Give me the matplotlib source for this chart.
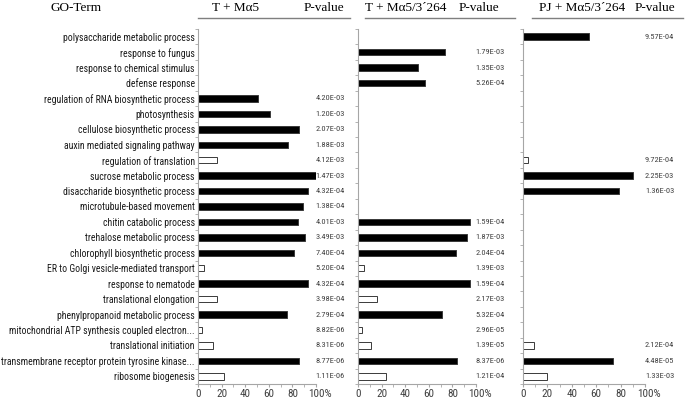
#!/usr/bin/env python3
"""GO-term enrichment, three treatments side by side (horizontal bars + p-values)."""

import numpy as np
import matplotlib
matplotlib.use("Agg")
import matplotlib.pyplot as plt
import matplotlib.transforms as mtransforms
from matplotlib.lines import Line2D
from matplotlib.ticker import FixedLocator

# Data
go_terms = [
    "polysaccharide metabolic process",
    "response to fungus",
    "response to chemical stimulus",
    "defense response",
    "regulation of RNA biosynthetic process",
    "photosynthesis",
    "cellulose biosynthetic process",
    "auxin mediated signaling pathway",
    "regulation of translation",
    "sucrose metabolic process",
    "disaccharide biosynthetic process",
    "microtubule-based movement",
    "chitin catabolic process",
    "trehalose metabolic process",
    "chlorophyll biosynthetic process",
    "ER to Golgi vesicle-mediated transport",
    "response to nematode",
    "translational elongation",
    "phenylpropanoid metabolic process",
    "mitochondrial ATP synthesis coupled electron...",
    "translational initiation",
    "transmembrane receptor protein tyrosine kinase...",
    "ribosome biogenesis",
]
# True = open (white) bar
open_bar = [False, False, False, False, False, False, False, False, True, False,
            False, False, False, False, False, True, False, True, False, True,
            True, False, True]

nan = np.nan
t_ma5 = [nan, nan, nan, nan, 51, 61, 86, 76, 16, 100, 93, 89, 85, 91, 81,
         5, 93, 16, 75, 3.5, 13, 86, 22]
t_ma5_p = [None, None, None, None, "4.20E-03", "1.20E-03", "2.07E-03", "1.88E-03",
           "4.12E-03", "1.47E-03", "4.32E-04", "1.38E-04", "4.01E-03", "3.49E-03",
           "7.40E-04", "5.20E-04", "4.32E-04", "3.98E-04", "2.79E-04", "8.82E-06",
           "8.31E-06", "8.77E-06", "1.11E-06"]

t_ma5_264 = [nan, 74, 51, 57, nan, nan, nan, nan, nan, nan, nan, nan, 95, 92, 83,
             5, 95, 16, 71, 3.5, 11, 84, 24]
t_ma5_264_p = [None, "1.79E-03", "1.35E-03", "5.26E-04", None, None, None, None,
               None, None, None, None, "1.59E-04", "1.87E-03", "2.04E-04",
               "1.39E-03", "1.59E-04", "2.17E-03", "5.32E-04", "2.96E-05",
               "1.39E-05", "8.37E-06", "1.21E-04"]

pj_ma5_264 = [54, nan, nan, nan, nan, nan, nan, nan, 4, 90, 79, nan, nan, nan, nan,
              nan, nan, nan, nan, nan, 9, 73.5, 20]
pj_ma5_264_p = ["9.57E-04", None, None, None, None, None, None, None, "9.72E-04",
                "2.25E-03", "1.36E-03", None, None, None, None, None, None, None,
                None, None, "2.12E-04", "4.48E-05", "1.33E-03"]

panel_titles = ["T + M\u03b15", "T + M\u03b15/3\u00b4264", "PJ + M\u03b15/3\u00b4264"]
x_tick_labels = ["0", "20", "40", "60", "80", "100%"]

# Layout (pixels of a 685x403 canvas)
W, H = 685, 403
AX_LEFT_PX = [198, 358, 523]
AX_WIDTH_PX = [118, 118, 122]
AX_TOP_PX, AX_BOTTOM_PX = 29, 384
TITLE_X_PX = [236, 406, 582]
PVAL_HDR_X_PX = [324, 479, 655]
RULE_PX = [(198, 350), (365, 515), (532, 683)]
AXIS_GRAY = "#a6a6a6"
TEXT_GRAY = "#404040"

serif = ["Liberation Serif", "DejaVu Serif"]
sans = ["Roboto Condensed", "DejaVu Sans"]

fig = plt.figure(figsize=(W / 100, H / 100), dpi=100)

# header row
fig.text(76 / W, 1 - 8 / H, "GO-Term", family=serif, fontsize=9.5,
         ha="center", va="center")
for i in range(3):
    fig.text(TITLE_X_PX[i] / W, 1 - 8 / H, panel_titles[i], family=serif,
             fontsize=9.5, ha="center", va="center")
    fig.text(PVAL_HDR_X_PX[i] / W, 1 - 8 / H, "P-value", family=serif,
             fontsize=9.5, ha="center", va="center")
    x0, x1 = RULE_PX[i]
    fig.add_artist(Line2D([x0 / W, x1 / W], [1 - 18 / H, 1 - 18 / H],
                          color="#7f7f7f", lw=1.0))

series = [(t_ma5, t_ma5_p), (t_ma5_264, t_ma5_264_p), (pj_ma5_264, pj_ma5_264_p)]
y = np.arange(len(go_terms))
faces = ["white" if o else "black" for o in open_bar]

for i, (vals, pvals) in enumerate(series):
    ax = fig.add_axes([AX_LEFT_PX[i] / W, 1 - AX_BOTTOM_PX / H,
                       AX_WIDTH_PX[i] / W, (AX_BOTTOM_PX - AX_TOP_PX) / H])
    vals = np.array(vals, dtype=float)
    ax.barh(y, np.nan_to_num(vals), height=0.42, color=faces,
            edgecolor="#3a3a3a", linewidth=0.7)

    # p-values sit in their own column right of each panel
    for row, p in enumerate(pvals):
        if p is not None:
            ax.text(112, row, p, family=sans, fontsize=6, color=TEXT_GRAY,
                    ha="center", va="center", clip_on=False)

    ax.set_xlim(0, 100)
    ax.set_ylim(len(go_terms) - 0.5, -0.5)
    for side in ("top", "right"):
        ax.spines[side].set_visible(False)
    for side in ("left", "bottom"):
        ax.spines[side].set_color(AXIS_GRAY)
        ax.spines[side].set_linewidth(0.8)

    ax.set_xticks([0, 20, 40, 60, 80, 100])
    ax.set_xticklabels(x_tick_labels, family=sans, fontsize=8, color=TEXT_GRAY)
    ax.xaxis.set_minor_locator(FixedLocator(np.arange(10, 100, 20)))
    ax.tick_params(axis="x", which="both", length=2.5, color=AXIS_GRAY, pad=1)

    ax.set_yticks(y)
    ax.yaxis.set_minor_locator(FixedLocator(np.arange(-0.5, len(go_terms), 1)))
    ax.tick_params(axis="y", which="major", length=0, pad=2.2)
    ax.tick_params(axis="y", which="minor", length=2, color=AXIS_GRAY)
    if i == 0:
        ax.set_yticklabels(go_terms, family=sans, fontsize=7, color="#1a1a1a")
    else:
        ax.set_yticklabels([])

    # push "100%" right so the number sits on its tick
    lbl = ax.get_xticklabels()[-1]
    lbl.set_horizontalalignment("left")
    lbl.set_transform(lbl.get_transform() +
                      mtransforms.ScaledTranslation(-8 / 100, 0, fig.dpi_scale_trans))

fig.savefig("out.png", dpi=100)
